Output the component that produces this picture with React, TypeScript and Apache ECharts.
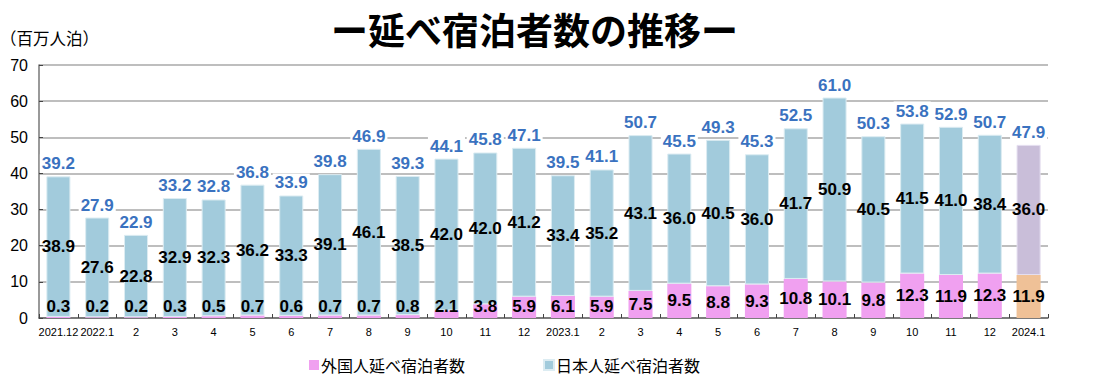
import React, { useEffect, useRef } from "react";
import * as echarts from "echarts";

const categories = [
  "2021.12", "2022.1", "2", "3", "4", "5", "6", "7", "8", "9", "10", "11", "12",
  "2023.1", "2", "3", "4", "5", "6", "7", "8", "9", "10", "11", "12", "2024.1",
];
const foreignValues = [
  0.3, 0.2, 0.2, 0.3, 0.5, 0.7, 0.6, 0.7, 0.7, 0.8, 2.1, 3.8, 5.9,
  6.1, 5.9, 7.5, 9.5, 8.8, 9.3, 10.8, 10.1, 9.8, 12.3, 11.9, 12.3, 11.9,
];
const japaneseValues = [
  38.9, 27.6, 22.8, 32.9, 32.3, 36.2, 33.3, 39.1, 46.1, 38.5, 42.0, 42.0, 41.2,
  33.4, 35.2, 43.1, 36.0, 40.5, 36.0, 41.7, 50.9, 40.5, 41.5, 41.0, 38.4, 36.0,
];
const totalValues = [
  39.2, 27.9, 22.9, 33.2, 32.8, 36.8, 33.9, 39.8, 46.9, 39.3, 44.1, 45.8, 47.1,
  39.5, 41.1, 50.7, 45.5, 49.3, 45.3, 52.5, 61.0, 50.3, 53.8, 52.9, 50.7, 47.9,
];
const yTicks = [0, 10, 20, 30, 40, 50, 60, 70];

const BLUE = "#a2cbdc";
const PINK = "#f0a0f0";
const PEACH = "#efc197";
const LAVENDER = "#c9bed9";
const FONT = "'Liberation Sans', Arial, sans-serif";
const JP = "'Noto Sans CJK JP', sans-serif";

export default function App() {
  const ref = useRef<HTMLDivElement>(null);
  useEffect(() => {
    document.body.style.margin = "0";
    if (!ref.current) return;
    const chart = echarts.init(ref.current, undefined, { renderer: "svg" });
    const last = categories.length - 1;
    const labelStyle = {
      show: true,
      color: "#000",
      fontFamily: FONT,
      fontWeight: "bold" as const,
      fontSize: 17,
      formatter: (p: any) => Number(p.value).toFixed(1),
    };
    const foreignData = foreignValues.map((v, i) => {
      const item: any = { value: v };
      if (v < 6) item.label = { position: "insideBottom", distance: 3 };
      if (i === last) item.itemStyle = { color: PEACH };
      return item;
    });
    const japaneseData = japaneseValues.map((v, i) => {
      const item: any = { value: v };
      if (i === last) item.itemStyle = { color: LAVENDER, borderColor: "#e4def0" };
      return item;
    });
    chart.setOption({
      animation: false,
      backgroundColor: "#fff",
      title: {
        text: "ー延べ宿泊者数の推移ー",
        left: 326,
        top: 5,
        textStyle: { fontFamily: JP, fontSize: 37, fontWeight: "bold", color: "#000" },
      },
      graphic: [
        {
          type: "text",
          left: 0,
          top: 30,
          style: { text: "（百万人泊）", fontFamily: JP, fontSize: 16.5, fill: "#000" },
        },
      ],
      legend: {
        data: ["外国人延べ宿泊者数", "日本人延べ宿泊者数"],
        left: 304,
        top: 352,
        itemWidth: 10,
        itemHeight: 10,
        itemGap: 78,
        icon: "rect",
        textStyle: { fontFamily: JP, fontSize: 16, color: "#000", padding: [0, 0, 0, -3] },
      },
      grid: { left: 39, right: 50, top: 65, bottom: 60 },
      xAxis: {
        type: "category",
        data: categories,
        axisLine: { lineStyle: { color: "#666", width: 1.5 } },
        axisTick: { show: true, inside: true, length: 4, lineStyle: { color: "#444" } },
        axisLabel: { color: "#000", fontFamily: FONT, fontSize: 11, margin: 8, interval: 0 },
      },
      yAxis: {
        type: "value",
        min: yTicks[0],
        max: yTicks[yTicks.length - 1],
        interval: 10,
        axisLine: { show: true, lineStyle: { color: "#777", width: 1.5 } },
        axisTick: { show: true, inside: true, length: 4, lineStyle: { color: "#444" } },
        axisLabel: { color: "#000", fontFamily: FONT, fontSize: 16, margin: 11 },
        splitLine: { lineStyle: { color: "#a8a8a8", width: 1.5 } },
      },
      series: [
        {
          name: "外国人延べ宿泊者数",
          type: "bar",
          stack: "total",
          barWidth: "62%",
          itemStyle: { color: PINK },
          label: { ...labelStyle, position: "inside" },
          data: foreignData,
          z: 3,
        },
        {
          name: "日本人延べ宿泊者数",
          type: "bar",
          stack: "total",
          barWidth: "62%",
          itemStyle: { color: BLUE, borderColor: "#dcecf2", borderWidth: 1 },
          label: { ...labelStyle, position: "inside" },
          data: japaneseData,
          z: 3,
        },
        {
          name: "合計",
          type: "bar",
          stack: "total",
          barWidth: "62%",
          itemStyle: { color: "rgba(0,0,0,0)" },
          label: {
            show: true,
            position: "top",
            distance: 4,
            color: "#3a72c0",
            fontFamily: FONT,
            fontWeight: "bold",
            fontSize: 17,
            backgroundColor: "#fff",
            padding: [1, 2, 0, 2],
            formatter: (p: any) => totalValues[p.dataIndex].toFixed(1),
          },
          data: totalValues.map(() => 0),
          z: 5,
        },
      ],
    });
    return () => chart.dispose();
  }, []);
  return <div ref={ref} style={{ width: 1098, height: 378 }} />;
}
